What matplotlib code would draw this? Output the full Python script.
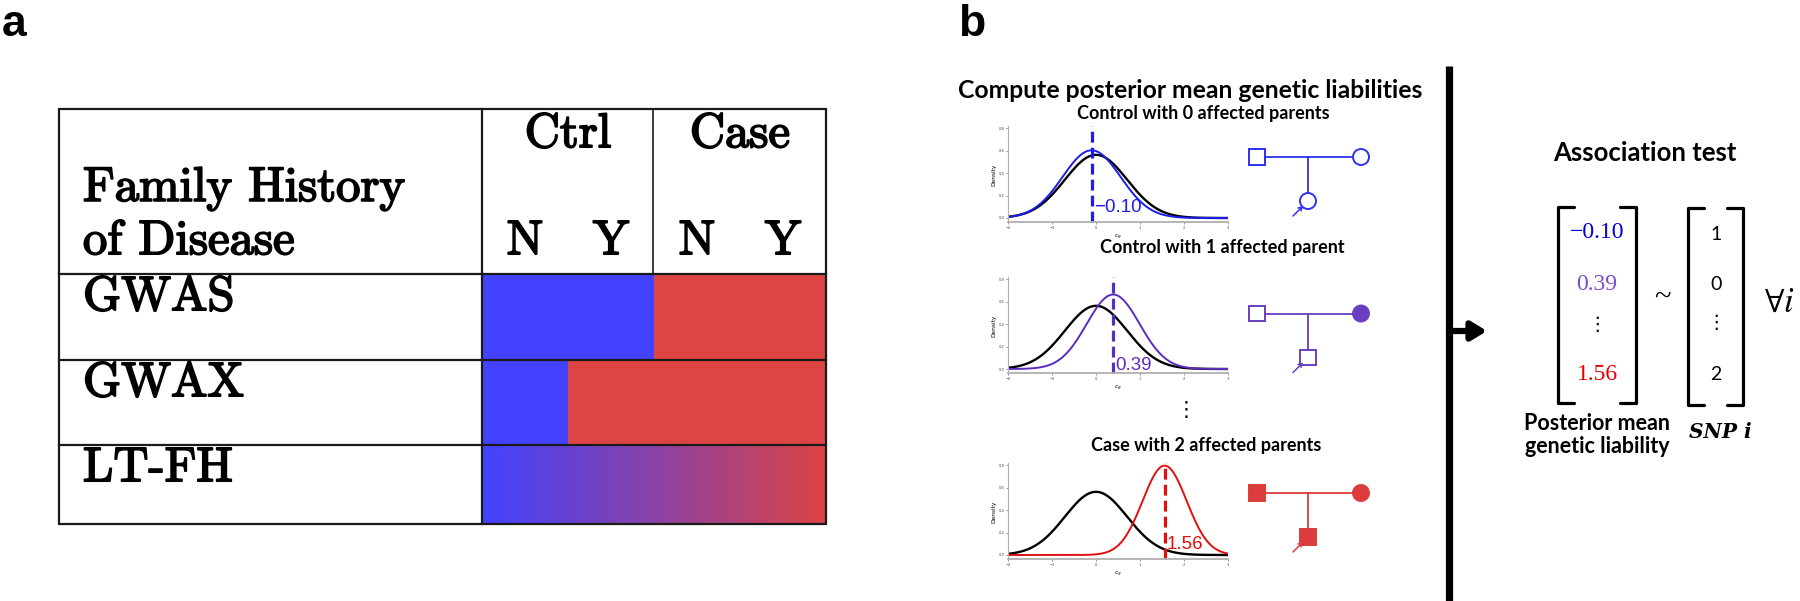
import matplotlib
matplotlib.use("Agg")
import matplotlib.pyplot as plt
import matplotlib.patheffects as pe
from matplotlib.patches import Rectangle, Circle
from matplotlib.colors import LinearSegmentedColormap
import numpy as np

W, H = 1800, 601

# ---- panel a: what each design treats as case / control ----
row_names = ["GWAS", "GWAX", "LT-FH"]
group_names = ["Ctrl", "Case"]
fh_names = ["N", "Y", "N", "Y"]
gwas_status = [0, 0, 1, 1]   # 0 = control, 1 = case
gwax_status = [0, 1, 1, 1]

# ---- panel b: posterior mean genetic liability per family configuration ----
case_titles = ["Control with 0 affected parents",
               "Control with 1 affected parent",
               "Case with 2 affected parents"]
post_mean = [-0.10, 0.39, 1.56]
post_sd = [0.66, 0.60, 0.50]
prior_mean = 0.0
prior_sd = 0.707
father_aff = [0, 0, 1]
mother_aff = [0, 1, 1]
child_aff = [0, 0, 1]
child_sex = ["F", "M", "M"]
snp_geno = [1, 0, 2]

BLUE_T, RED_T = "#4242ff", "#dd4444"
curve_col = ["#1c1cf0", "#5a2dbf", "#e01010"]
ped_col = ["#3030ee", "#6a3fbf", "#dd3c3c"]
mat_col = ["#0000d8", "#7a4fd0", "#e00000"]


def fmt(v):
    return f"{v:.2f}".replace("-", "\u2212")


def px_axes(x0, y0, x1, y1):
    return fig.add_axes([x0 / W, 1 - y1 / H, (x1 - x0) / W, (y1 - y0) / H])


fig = plt.figure(figsize=(W / 100, H / 100), dpi=100)

# ---------------- table bars ----------------
TX0, TXM, TXC, TX1 = 59, 482, 653, 826
TY0, TYH, TY1, TY2, TY3 = 109, 274, 360, 445, 524
row_edges = [TYH, TY1, TY2, TY3]

tab = px_axes(TXM, TYH, TX1, TY3)
tab.axis("off")
for r, status in enumerate([gwas_status, gwax_status]):
    y_top, y_bot = row_edges[r], row_edges[r + 1]
    tab.barh((y_top + y_bot) / 2, [1] * len(status), left=np.arange(len(status)),
             height=y_bot - y_top, color=[RED_T if s else BLUE_T for s in status],
             linewidth=0)
grad = LinearSegmentedColormap.from_list("fh", [BLUE_T, "#8a42a6", RED_T])
tab.imshow(np.linspace(0, 1, 256)[None, :], cmap=grad, aspect="auto",
           extent=(0, len(fh_names), TY3, TY2))
tab.set_xlim(0, len(fh_names))
tab.set_ylim(TY3, TYH)

# ---------------- density plots ----------------
xs = np.linspace(-2, 3, 400)
zero_px = [218, 369, 555]
ppu = 112
label_dy = [0.09, 0.035, 0.09]
for i in range(3):
    y0 = zero_px[i]
    ax = px_axes(1008, y0 - 0.82 * ppu, 1228, y0 + 0.04 * ppu)
    prior = np.exp(-0.5 * ((xs - prior_mean) / prior_sd) ** 2) / (prior_sd * np.sqrt(2 * np.pi))
    post = np.exp(-0.5 * ((xs - post_mean[i]) / post_sd[i]) ** 2) / (post_sd[i] * np.sqrt(2 * np.pi))
    ax.plot(xs, prior, color="black", lw=1.7)
    ax.plot(xs, post, color=curve_col[i], lw=1.4)
    ax.axvline(post_mean[i], color=curve_col[i], lw=2.3, dashes=(3.4, 1.6), clip_on=False)
    ax.text(post_mean[i] + 0.05, label_dy[i], fmt(post_mean[i]), color=curve_col[i],
            fontsize=13.5, family="Liberation Sans", va="center", ha="left")
    ax.set_xlim(-2, 3)
    ax.set_ylim(-0.04, 0.82)
    ax.set_xticks([-2, -1, 0, 1, 2, 3])
    ax.set_yticks([0, 0.2, 0.4, 0.6, 0.8])
    ax.set_yticklabels(["0.0", "0.2", "0.4", "0.6", "0.8"])
    ax.tick_params(labelsize=2.6, length=1.2, width=0.4, pad=1, colors="#444444")
    for s in ["top", "right"]:
        ax.spines[s].set_visible(False)
    ax.spines["left"].set_color("#b0b0b0")
    ax.spines["bottom"].set_color("#b0b0b0")
    ax.spines["bottom"].set_linewidth(1.3)
    ax.set_ylabel("Density", fontsize=4.2, labelpad=2)
    ax.set_xlabel(r"$c_g$", fontsize=4.2, labelpad=2)
    ax.patch.set_alpha(0)

# ---------------- overlay: text, lines, pedigrees, matrices ----------------
ov = fig.add_axes([0, 0, 1, 1])
ov.set_xlim(0, W)
ov.set_ylim(H, 0)
ov.axis("off")
ov.set_zorder(5)

ov.text(14, 24, "a", fontsize=32, fontweight="bold", family="Liberation Sans", ha="center", va="center")
ov.text(972, 24, "b", fontsize=32, fontweight="bold", family="Liberation Sans", ha="center", va="center")

# table grid
lc = "#1a1a1a"
ov.add_patch(Rectangle((TX0, TY0), TX1 - TX0, TY3 - TY0, fill=False, ec=lc, lw=1.6))
ov.plot([TXM, TXM], [TY0, TY3], color=lc, lw=1.6)
ov.plot([TXC, TXC], [TY0, TYH], color=lc, lw=1.2)
for y in [TYH, TY1, TY2]:
    ov.plot([TX0, TX1], [y, y], color=lc, lw=1.6)

cm_kw = dict(family="cmr10", fontsize=35, color="black",
             path_effects=[pe.withStroke(linewidth=1.3, foreground="black")])
ov.text(83, 189, "Family History", ha="left", va="center", **cm_kw)
ov.text(83, 242, "of Disease", ha="left", va="center", **cm_kw)
sub_w = (TX1 - TXM) / len(fh_names)
for g, name in enumerate(group_names):
    ov.text(TXM + sub_w * (2 * g + 1), 135, name, ha="center", va="center", **cm_kw)
for k, name in enumerate(fh_names):
    ov.text(TXM + sub_w * (k + 0.5), 242, name, ha="center", va="center", **cm_kw)
for r, name in enumerate(row_names):
    ov.text(83, row_edges[r] + 24, name, ha="left", va="center", **cm_kw)

# panel b titles
sans_b = dict(family="Lato", fontweight="bold", color="black")
ov.text(1190, 90, "Compute posterior mean genetic liabilities", fontsize=17.8,
        ha="center", va="center", **sans_b)
title_y = [113, 248, 446]
title_x = [1203, 1222, 1206]
for i in range(3):
    ov.text(title_x[i], title_y[i], case_titles[i], fontsize=13, ha="center", va="center", **sans_b)
ov.text(1186, 410, "\u22ee", fontsize=15, ha="center", va="center", family="DejaVu Sans")

# pedigrees
ped_y = [157, 313.5, 493]
for i in range(3):
    c = ped_col[i]
    y0 = ped_y[i]
    fx, mx, jx = 1257, 1361, 1308
    s, rad = 15.5, 8
    cy = y0 + 44
    ov.plot([fx + s / 2, mx - rad], [y0, y0], color=c, lw=1.3)
    ov.plot([jx, jx], [y0, cy - s / 2], color=c, lw=1.3)
    ov.add_patch(Rectangle((fx - s / 2, y0 - s / 2), s, s, fc=c if father_aff[i] else "white", ec=c, lw=1.4))
    ov.add_patch(Circle((mx, y0), rad, fc=c if mother_aff[i] else "white", ec=c, lw=1.4))
    cfc = c if child_aff[i] else "white"
    if child_sex[i] == "M":
        ov.add_patch(Rectangle((jx - s / 2, cy - s / 2), s, s, fc=cfc, ec=c, lw=1.4))
    else:
        ov.add_patch(Circle((jx, cy), rad, fc=cfc, ec=c, lw=1.4))
    ov.annotate("", xy=(jx - 5, cy + 5), xytext=(jx - 15, cy + 15),
                arrowprops=dict(arrowstyle="->,head_length=0.25,head_width=0.15",
                                color=c, lw=1.1, shrinkA=0, shrinkB=0))

# divider and arrow
ov.plot([1449, 1449], [66, H], color="black", lw=5.2, solid_capstyle="butt")
ov.annotate("", xy=(1487, 331), xytext=(1449, 331),
            arrowprops=dict(arrowstyle="-|>,head_length=0.9,head_width=0.55",
                            color="black", lw=4.5, shrinkA=0, shrinkB=0))

# association test
ov.text(1645, 153, "Association test", fontsize=18.5, ha="center", va="center", **sans_b)


def bracket(x0, x1, y0, y1, serif=16):
    kw = dict(color="black", lw=2.3, solid_joinstyle="round", solid_capstyle="round")
    ov.plot([x0 + serif, x0, x0, x0 + serif], [y0, y0, y1, y1], **kw)
    ov.plot([x1 - serif, x1, x1, x1 - serif], [y0, y0, y1, y1], **kw)


bracket(1558, 1636, 207, 403)
bracket(1688, 1743, 208, 405)
val_y = [233, 284, 374]
for i in range(3):
    ov.text(1597, val_y[i], fmt(post_mean[i]), color=mat_col[i], fontsize=17,
            family="Liberation Serif", ha="center", va="center")
    ov.text(1716, val_y[i] + 1, str(snp_geno[i]), color="black", fontsize=14,
            family="Lato", ha="center", va="center")
ov.text(1597, 325, "\u22ee", fontsize=14, ha="center", va="center", family="DejaVu Sans")
ov.text(1716, 323, "\u22ee", fontsize=14, ha="center", va="center", family="DejaVu Sans")
ov.text(1662, 297, "~", fontsize=22, ha="center", va="center", family="Liberation Serif")
ov.text(1764, 302, r"$\forall i$", fontsize=25, ha="left", va="center", math_fontfamily="stix")
ov.text(1597, 435, "Posterior mean\ngenetic liability", fontsize=15.5, ha="center", va="center",
        linespacing=1.1, **sans_b)
ov.text(1720, 432, "SNP i", fontsize=14.5, fontweight="bold", fontstyle="italic",
        family="DejaVu Serif", ha="center", va="center")

fig.savefig("out.png", dpi=100)
